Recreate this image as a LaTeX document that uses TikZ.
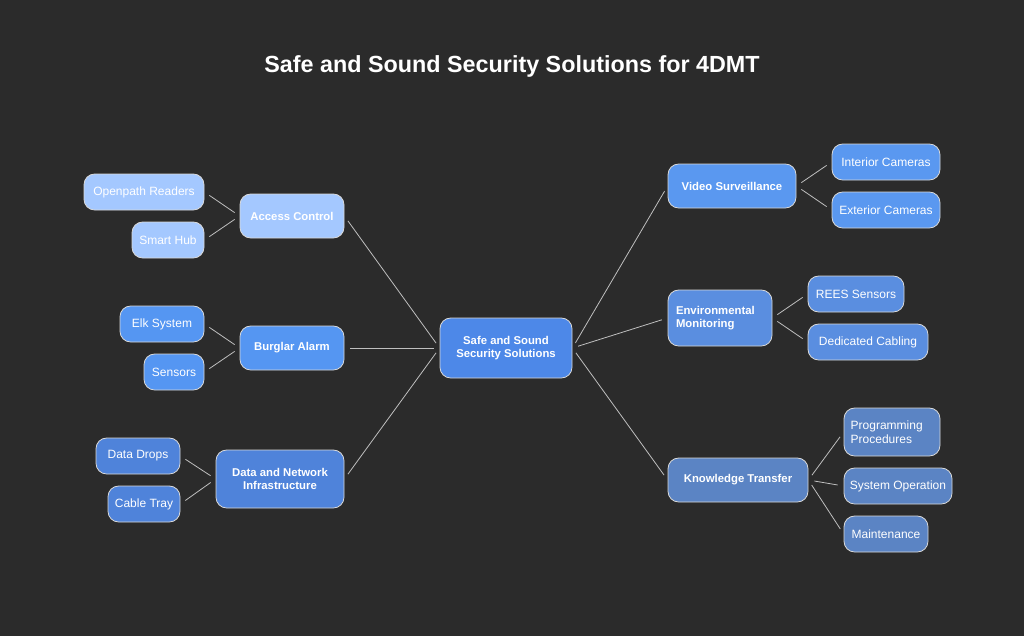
\documentclass[tikz,border=0pt]{standalone}
\usepackage{fontspec}
\setmainfont{Liberation Sans}
\begin{document}
\begin{tikzpicture}[x=0.75pt,y=-0.75pt,
 box/.style={draw=white!85!black,line width=0.6pt,rounded corners=8pt,minimum height=#1*0.75pt,inner sep=0pt,text=white,font=\fontsize{9}{10.5}\selectfont},
 hub/.style={font=\bfseries\fontsize{8.5}{10}\selectfont},
 e/.style={draw=white!75!black,line width=0.6pt,shorten >=4.5pt,shorten <=4.5pt}]
\definecolor{bg}{HTML}{2B2B2B}
\definecolor{cA}{HTML}{A4C8FF}
\definecolor{cB}{HTML}{5596F2}
\definecolor{cD}{HTML}{4F83DA}
\definecolor{cC}{HTML}{4D88E8}
\definecolor{cV}{HTML}{5A98F0}
\definecolor{cE}{HTML}{5A8EE0}
\definecolor{cK}{HTML}{5B84C4}
\fill[bg] (0,0) rectangle (1024,636);
\useasboundingbox (0,0) rectangle (1024,636);
\node[text=white,font=\bfseries\fontsize{17.5}{20}\selectfont] (t) at (512,66) {Safe and Sound Security Solutions for 4DMT};
\node[box=60,hub,fill=cC,minimum width=99pt,align=center] (c) at (506,348) {Safe and Sound\\Security Solutions};
\node[box=44,hub,fill=cA,minimum width=78pt] (ac) at (292,216) {Access Control};
\node[box=36,fill=cA,minimum width=90pt] (op) at (144,192) {Openpath Readers};
\node[box=36,fill=cA,minimum width=54pt] (sh) at (168,240) {Smart Hub};
\node[box=44,hub,fill=cB,minimum width=78pt] (ba) at (292,348) {Burglar Alarm};
\node[box=36,fill=cB,minimum width=63pt] (elk) at (162,324) {Elk System};
\node[box=36,fill=cB,minimum width=45pt] (se) at (174,372) {Sensors};
\node[box=58,hub,fill=cD,minimum width=96pt,align=center] (dn) at (280,479) {Data and Network\\Infrastructure};
\node[box=36,fill=cD,minimum width=63pt] (dd) at (138,456) {Data Drops};
\node[box=36,fill=cD,minimum width=54pt] (ct) at (144,504) {Cable Tray};
\node[box=44,hub,fill=cV,minimum width=96pt] (vs) at (732,186) {Video Surveillance};
\node[box=36,fill=cV,minimum width=81pt] (ic) at (886,162) {Interior Cameras};
\node[box=36,fill=cV,minimum width=81pt] (ec) at (886,210) {Exterior Cameras};
\node[box=56,hub,fill=cE,minimum width=78pt,align=left,text width=66pt] (em) at (720,318) {Environmental\\Monitoring};
\node[box=36,fill=cE,minimum width=72pt] (rs) at (856,294) {REES Sensors};
\node[box=36,fill=cE,minimum width=90pt] (dc) at (868,342) {Dedicated Cabling};
\node[box=44,hub,fill=cK,minimum width=105pt] (kt) at (738,480) {Knowledge Transfer};
\node[box=48,fill=cK,minimum width=72pt,align=left,text width=62pt] (pp) at (892,432) {Programming\\Procedures};
\node[box=36,fill=cK,minimum width=81pt] (so) at (898,486) {System Operation};
\node[box=36,fill=cK,minimum width=63pt] (mt) at (886,534) {Maintenance};
\draw[e] (ac.east) -- (c.west);
\draw[e] (ba.east) -- (c.west);
\draw[e] (dn.east) -- (c.west);
\draw[e] (c.east) -- (vs.west);
\draw[e] (c.east) -- (em.west);
\draw[e] (c.east) -- (kt.west);
\draw[e] (op.east) -- (ac.west);
\draw[e] (sh.east) -- (ac.west);
\draw[e] (elk.east) -- (ba.west);
\draw[e] (se.east) -- (ba.west);
\draw[e] (dd.east) -- (dn.west);
\draw[e] (ct.east) -- (dn.west);
\draw[e] (vs.east) -- (ic.west);
\draw[e] (vs.east) -- (ec.west);
\draw[e] (em.east) -- (rs.west);
\draw[e] (em.east) -- (dc.west);
\draw[e] (kt.east) -- (pp.west);
\draw[e] (kt.east) -- (so.west);
\draw[e] (kt.east) -- (mt.west);
\end{tikzpicture}
\end{document}
